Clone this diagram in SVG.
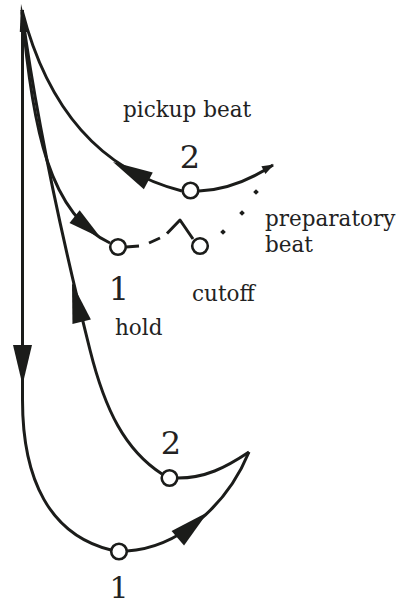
<svg xmlns="http://www.w3.org/2000/svg" xmlns:xlink="http://www.w3.org/1999/xlink" width="398" height="606" viewBox="0 0 398 606">
  <style>
    .ln { fill: none; stroke: #1b1c1a; stroke-width: 3; stroke-linecap: butt; stroke-linejoin: round; }
    .dash { fill: none; stroke: #1b1c1a; stroke-width: 3; }
    .dot { fill: #1b1c1a; }
    .ah { fill: #1b1c1a; }
    .node { fill: #ffffff; stroke: #1b1c1a; stroke-width: 2.6; }
    .lbl { font-family: "DejaVu Serif", "Liberation Serif", serif; font-size: 21.5px; fill: #222222; }
    .num { font-family: "DejaVu Serif", "Liberation Serif", serif; font-size: 32px; fill: #222222; text-anchor: middle; }
  </style>
  <defs>
    <path id="ah" class="ah" d="M0,0 L-40,-9.5 L-40,9.5 Z"/>
  </defs>

  <g id="connectors">
    <!-- sharp apex -->
    <path class="ah" d="M21,4 L19.8,32 L28,32 Z"/>
    <!-- downbeat: vertical line and lower loop -->
    <path class="ln" d="M22.5,10 L22.5,400 C22.5,480 50,535 111,550"/>
    <use xlink:href="#ah" transform="translate(22.5,385) rotate(90)"/>
    <!-- lower 1 to cusp -->
    <path class="ln" d="M127,551 C175,548 225,510 249,452"/>
    <use xlink:href="#ah" transform="translate(208,512) rotate(-41)"/>
    <!-- cusp back to lower 2 -->
    <path class="ln" d="M249,452 C225,468 205,478 178,478"/>
    <!-- lower 2 up to apex (hold) -->
    <path class="ln" d="M22,12 C35,110 60,230 90,350 C105,410 125,450 162,474"/>
    <use xlink:href="#ah" transform="translate(72,283) rotate(-104)"/>
    <!-- apex to upper 1 -->
    <path class="ln" d="M22,10 C32,130 50,215 110,243"/>
    <use xlink:href="#ah" transform="translate(101,238) rotate(39) scale(0.85)"/>
    <!-- apex to pickup 2 -->
    <path class="ln" d="M22,10 C40,80 80,165 182,191"/>
    <use xlink:href="#ah" transform="translate(113,162) rotate(208)" />
    <!-- pickup 2 to right end -->
    <path class="ln" d="M199,191 C225,190 250,180 273,165"/>
    <use xlink:href="#ah" transform="translate(274,164.5) rotate(-28) scale(0.3,0.45)"/>
    <!-- hold line: upper 1 to cutoff -->
    <path class="dash" d="M126,247 L139,246"/>
    <path class="dash" d="M149,243 L160,238"/>
    <path class="ln" d="M167,233.5 L180,220 L193,239"/>
    <!-- preparatory beat dots -->
    <rect class="dot" x="221" y="230" width="4" height="4" transform="rotate(45 223 232)"/>
    <rect class="dot" x="240" y="211" width="4" height="4" transform="rotate(45 242 213)"/>
    <rect class="dot" x="254" y="190" width="4" height="4" transform="rotate(45 256 192)"/>
  </g>

  <g id="node-pickup-2">
    <circle class="node" cx="190.5" cy="190.5" r="7.8"/>
    <text class="num" x="190" y="168">2</text>
  </g>
  <g id="node-hold-1">
    <circle class="node" cx="118" cy="247" r="7.8"/>
    <text class="num" x="119" y="300">1</text>
  </g>
  <g id="node-cutoff">
    <circle class="node" cx="200" cy="246" r="7.8"/>
  </g>
  <g id="node-lower-2">
    <circle class="node" cx="169.5" cy="478" r="7.8"/>
    <text class="num" x="171" y="454">2</text>
  </g>
  <g id="node-lower-1">
    <circle class="node" cx="119" cy="551.5" r="7.8"/>
    <text class="num" x="119" y="598" style="font-size:30px">1</text>
  </g>

  <g id="labels">
    <text class="lbl" x="123" y="117">pickup beat</text>
    <text class="lbl" x="265" y="226">preparatory</text>
    <text class="lbl" x="265" y="252">beat</text>
    <text class="lbl" x="192" y="301">cutoff</text>
    <text class="lbl" x="115" y="335">hold</text>
  </g>
</svg>
